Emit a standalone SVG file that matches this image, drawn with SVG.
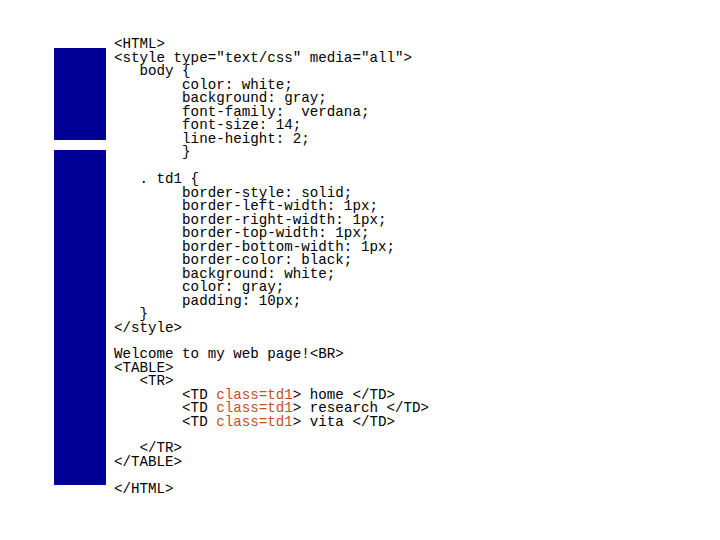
<svg xmlns="http://www.w3.org/2000/svg" width="720" height="540" viewBox="0 0 720 540">
<style>
text{font-family:"Liberation Mono","Courier New",monospace;font-size:14.2px;fill:#000;white-space:pre}
.o{fill:#c0502a}
.bar{fill:#000096}
</style>
<rect width="720" height="540" fill="#fff"/>
<g id="bars">
<rect class="bar" x="54" y="48" width="52" height="92"/>
<rect class="bar" x="54" y="150" width="52" height="335"/>
</g>
<g id="code" xml:space="preserve">
<text x="114" y="48">&lt;HTML&gt;</text>
<text x="114" y="61.5">&lt;style type="text/css" media="all"&gt;</text>
<text x="114" y="75">   body {</text>
<text x="114" y="88.5">        color: white;</text>
<text x="114" y="102">        background: gray;</text>
<text x="114" y="115.5">        font-family:  verdana;</text>
<text x="114" y="129">        font-size: 14;</text>
<text x="114" y="142.5">        line-height: 2;</text>
<text x="114" y="156">        }</text>
<text x="114" y="183">   . td1 {</text>
<text x="114" y="196.5">        border-style: solid;</text>
<text x="114" y="210">        border-left-width: 1px;</text>
<text x="114" y="223.5">        border-right-width: 1px;</text>
<text x="114" y="237">        border-top-width: 1px;</text>
<text x="114" y="250.5">        border-bottom-width: 1px;</text>
<text x="114" y="264">        border-color: black;</text>
<text x="114" y="277.5">        background: white;</text>
<text x="114" y="291">        color: gray;</text>
<text x="114" y="304.5">        padding: 10px;</text>
<text x="114" y="318">   }</text>
<text x="114" y="331.5">&lt;/style&gt;</text>
<text x="114" y="358">Welcome to my web page!&lt;BR&gt;</text>
<text x="114" y="371.5">&lt;TABLE&gt;</text>
<text x="114" y="385">   &lt;TR&gt;</text>
<text x="114" y="398.5">        &lt;TD <tspan class="o">class=td1</tspan>&gt; home &lt;/TD&gt;</text>
<text x="114" y="412">        &lt;TD <tspan class="o">class=td1</tspan>&gt; research &lt;/TD&gt;</text>
<text x="114" y="425.5">        &lt;TD <tspan class="o">class=td1</tspan>&gt; vita &lt;/TD&gt;</text>
<text x="114" y="452">   &lt;/TR&gt;</text>
<text x="114" y="465.5">&lt;/TABLE&gt;</text>
<text x="114" y="492.5">&lt;/HTML&gt;</text>
</g>
</svg>
